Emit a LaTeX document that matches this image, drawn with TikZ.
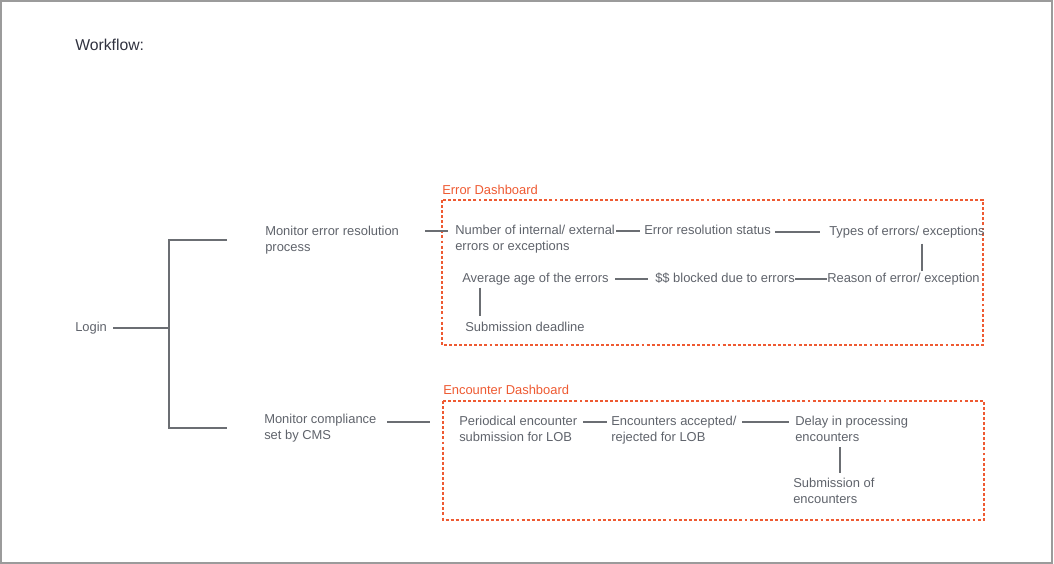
\documentclass[tikz,border=0pt]{standalone}
\usepackage{fontspec}
\setmainfont{Liberation Sans}
\usetikzlibrary{calc,positioning}
\definecolor{framegray}{HTML}{9B9B9B}
\definecolor{textgray}{HTML}{5F636B}
\definecolor{titlegray}{HTML}{30323F}
\definecolor{linegray}{HTML}{6B6E73}
\definecolor{dashred}{HTML}{EE5A32}

\begin{document}
\begin{tikzpicture}[
  x=0.75pt, y=-0.75pt,
  every node/.style={inner sep=0pt, font=\fontsize{9.7}{12}\selectfont, text=textgray, align=left},
  item/.style={anchor=base west},
  link/.style={draw=linegray, line width=1.5pt},
  board/.style={draw=dashred, line width=1.3pt, dash pattern=on 2.2pt off 1.6pt},
  boardlabel/.style={anchor=base west, text=dashred}
]
  \useasboundingbox (0,0) rectangle (1054,564);
  \draw[framegray, line width=1.5pt] (1,1) rectangle (1052,563);

  \node[item, text=titlegray, font=\fontsize{11.8}{14}\selectfont] (title) at (75,50.5) {Workflow:};

  % login tree
  \node[item] (login) at (75,331.5) {Login};
  \node[item] (mer) at (265,251.5) {Monitor error resolution\\process};
  \node[item] (mcms) at (264,439.5) {Monitor compliance\\set by CMS};
  \coordinate (fork) at (169,328);
  \draw[link] ($(login.base east)+(6,-3.5)$) -- (fork);
  \draw[link] ($(fork |- mer.west)+(58,0)$) -- (fork |- mer.west) -- (fork |- mcms.west) -- +(58,0);

  % error dashboard
  \draw[board] (442,200) rectangle (983,345);
  \node[boardlabel] (errlabel) at (442,194) {Error Dashboard};
  \node[item] (num) at (455,250.5) {Number of internal/ external\\errors or exceptions};
  \node[item] (ers) at (644,234.5) {Error resolution status};
  \node[item] (types) at (829,235.5) {Types of errors/ exceptions};
  \node[item] (reason) at (827,282.5) {Reason of error/ exception};
  \node[item] (blocked) at (655,282.5) {\$\$ blocked due to errors};
  \node[item] (avg) at (462,282.5) {Average age of the errors};
  \node[item] (deadline) at (465,331.5) {Submission deadline};
  \draw[link] ($(mer.base west |- num.base)+(160,-20)$) -- ($(num.base west)+(-7,-20)$);
  \draw[link] ($(num.base west |- ers.base)+(161,-3.5)$) -- ($(ers.base west)+(-4,-3.5)$);
  \draw[link] ($(ers.base east)+(4,-3)$) -- ($(ers.base east -| types.west)+(-9,-3)$);
  \draw[link] ($(types.base west)+(93,8)$) -- ++(0,27);
  \draw[link] ($(blocked.base west)+(140,-3.5)$) -- ($(reason.base west)+(0,-3.5)$);
  \draw[link] ($(avg.base west)+(153,-3.5)$) -- ($(blocked.base west)+(-7,-3.5)$);
  \draw[link] ($(avg.base west)+(18,5)$) -- ($(deadline.base west)+(15,-16)$);

  % encounter dashboard
  \draw[board] (443,401) rectangle (984,520);
  \node[boardlabel] (enclabel) at (443,394) {Encounter Dashboard};
  \node[item] (period) at (459,441.5) {Periodical encounter\\submission for LOB};
  \node[item] (accepted) at (611,441.5) {Encounters accepted/\\rejected for LOB};
  \node[item] (delay) at (795,441.5) {Delay in processing\\encounters};
  \node[item] (subenc) at (793,503.5) {Submission of\\encounters};
  \draw[link] ($(mcms.base west |- period.base)+(123,-20)$) -- ($(period.base west)+(-29,-20)$);
  \draw[link] ($(period.base west)+(124,-20)$) -- ($(accepted.base west)+(-4,-20)$);
  \draw[link] ($(accepted.base west)+(131,-20)$) -- ($(delay.base west)+(-6,-20)$);
  \draw[link] ($(delay.base west)+(45,5.5)$) -- ++(0,26);
\end{tikzpicture}
\end{document}
